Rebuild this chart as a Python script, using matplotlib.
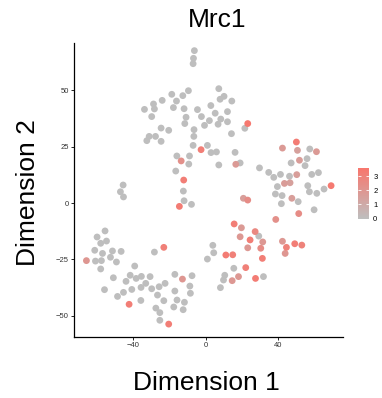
import matplotlib
matplotlib.use("Agg")
import matplotlib.pyplot as plt
import numpy as np
from matplotlib.colors import LinearSegmentedColormap

plt.rcParams['font.family'] = ['Liberation Sans', 'DejaVu Sans']

# tSNE coordinates (gray = no expression)
gray_x = [-6.3, -6.8, -7.0, -9.6, -18.8, -12.7, -16.2, -24.1, -17.9, -12.0,
          -28.9, -28.4, -33.9, -29.9, -10.9, -11.6, -6.5, -6.6, -4.6, -2.4,
          -0.7, 2.0, 2.8, 5.2, 7.2, 7.9, 10.1, 14.4, 12.0, 8.3,
          6.8, 12.0, 14.2, 21.6, -20.5, -24.7, -31.3, -27.8, -32.6, -24.7,
          -7.0, 0.9, 2.9, 5.9, -16.0, -9.0, -9.4, 7.2, 16.2, 19.0,
          -16.6, -12.4, -12.0, -7.9, -45.7, -47.2, -45.5,
          29.7, 34.8, 37.6, 41.3, 39.6, 42.2, 41.8, 38.5, 46.3, 47.2,
          57.5, 56.0, 54.9, 58.6, 62.3, 56.4, 57.3, 61.4, 65.4, 51.1, 59.9,
          29.3, 3.9, 4.4, 0.9, 10.5, 9.8, 8.1, 15.5, 31.9,
          -61.4, -61.0, -60.1, -58.1, -57.1, -55.7, -54.9, -57.7, -58.1, -52.7,
          -51.6, -49.4, -46.8, -51.1, -56.0, -48.8, -45.5, -44.1, -41.8, -40.9,
          -38.5, -39.3, -35.6, -35.8, -33.2, -30.8, -29.9, -28.4, -25.8, -26.7,
          -22.5, -27.6, -25.4, -25.4, -23.2, -17.1, -17.1, -15.9, -17.7, -12.5,
          -11.8, -8.8, -8.5, -7.6, -35.9]
gray_y = [67.7, 64.3, 61.9, 49.9, 48.3, 47.7, 45.3, 45.6, 42.4, 41.9,
          44.0, 41.8, 41.6, 38.4, 38.1, 35.3, 32.6, 29.6, 41.5, 38.4,
          34.5, 36.6, 43.3, 39.9, 50.8, 46.1, 47.4, 45.3, 40.6, 37.3,
          35.0, 36.1, 30.8, 33.2, 32.3, 33.3, 29.6, 29.6, 27.7, 27.4,
          25.6, 25.6, 22.4, 22.7, 20.9, 20.9, 17.3, 16.9, 22.5, 17.8,
          14.2, 5.3, 1.0, -0.6, 8.0, 5.0, 2.7,
          15.6, 13.6, 11.4, 12.7, 7.3, 3.3, -0.3, 4.0, 11.9, 17.8,
          24.0, 19.7, 16.6, 12.7, 13.5, 7.7, 5.0, 4.3, 6.2, 0.6, -3.0,
          -14.7, -18.8, -22.1, -24.9, -32.1, -34.2, -37.6, -29.0, -32.7,
          -21.0, -25.8, -15.1, -17.9, -22.4, -12.4, -16.9, -25.6, -29.3, -24.1,
          -21.3, -26.2, -21.5, -33.2, -38.5, -41.5, -39.7, -34.8, -32.1, -38.4,
          -33.5, -28.0, -32.6, -37.5, -35.7, -32.7, -38.1, -21.8, -37.2, -40.9,
          -35.7, -46.7, -48.7, -52.1, -43.4, -31.7, -39.1, -43.1, -46.2, -47.4,
          -44.1, -36.9, -40.1, -32.3, -43.3]

# expressing cells
expr_x = [23.2, -2.6, -13.6, 16.6, -12.2, -14.6,
          43.5, 46.6, 50.3, 51.8, 50.7, 50.1, 42.4, 61.2, 69.3, 47.6, 51.4, 38.7,
          20.8, 23.2,
          15.7, 19.7, 19.0, 24.5, 27.3, 31.5, 23.2, 30.4, 31.3, 11.1, 14.9,
          14.6, 18.1, 22.1, 27.5, 42.4, 44.6, 43.9, 49.2, 53.1,
          -66.0, -23.2, -20.5, -12.9, -42.4]
expr_y = [35.3, 23.7, 18.7, 17.2, 10.2, -1.5,
          8.7, 9.0, 12.6, 19.0, 23.4, 27.1, 24.4, 22.8, 7.7, 2.1, -4.7, -7.3,
          2.1, 1.3,
          -9.3, -11.0, -15.0, -16.4, -12.7, -17.3, -19.9, -20.1, -24.6, -23.1, -23.0,
          -34.5, -32.7, -28.7, -33.5, -17.0, -19.7, -22.4, -18.1, -18.7,
          -25.6, -19.7, -53.8, -33.8, -45.0]
expr_val = [3.5, 3.2, 2.3, 1.8, 3.2, 3.3,
            1.7, 1.5, 1.6, 1.7, 1.5, 3.3, 1.8, 1.8, 3.4, 1.6, 2.5, 2.3,
            1.6, 2.5,
            3.2, 1.8, 1.9, 3.2, 2.7, 1.9, 1.9, 2.5, 3.2, 3.3, 3.1,
            1.9, 1.9, 3.1, 3.3, 1.9, 3.0, 2.0, 3.2, 3.0,
            2.0, 3.1, 3.2, 2.0, 3.2]

x = np.array(gray_x + expr_x)
y = np.array(gray_y + expr_y)
v = np.array([0.0] * len(gray_x) + expr_val)
order = np.argsort(v, kind="stable")

cmap = LinearSegmentedColormap.from_list("gr", ["#BEBEBE", "#F8766D"])

fig = plt.figure(figsize=(3.82, 3.98), dpi=100)
ax = fig.add_axes([0.1945, 0.154, 0.7035, 0.738])

sc = ax.scatter(x[order], y[order], c=v[order], cmap=cmap, vmin=0, vmax=3.6,
                s=24, linewidths=0)

ax.set_xlim(-72.7, 75.9)
ax.set_ylim(-59.4, 71.1)
ax.set_xticks([-40, 0, 40])
ax.set_yticks([-50, -25, 0, 25, 50])
for side in ["top", "right"]:
    ax.spines[side].set_visible(False)
for side in ["left", "bottom"]:
    ax.spines[side].set_linewidth(0.9)
ax.tick_params(length=2, width=0.6, pad=2, labelsize=5.5, labelcolor="#333333")

fig.text(0.568, 0.933, "Mrc1", fontsize=19, ha="center", va="baseline")
fig.text(0.539, 0.02, "Dimension 1", fontsize=19, ha="center", va="baseline")
fig.text(0.072, 0.515, "Dimension 2", fontsize=19, ha="center", va="center",
         rotation=90)

cax = fig.add_axes([0.937, 0.451, 0.029, 0.127])
cb = fig.colorbar(sc, cax=cax, ticks=[0, 1, 2, 3])
cb.outline.set_visible(False)
cax.tick_params(direction="in", length=2, width=0.6, color="white",
                left=True, right=True, labelsize=5.5, pad=3)

fig.savefig("out.png", dpi=100)
